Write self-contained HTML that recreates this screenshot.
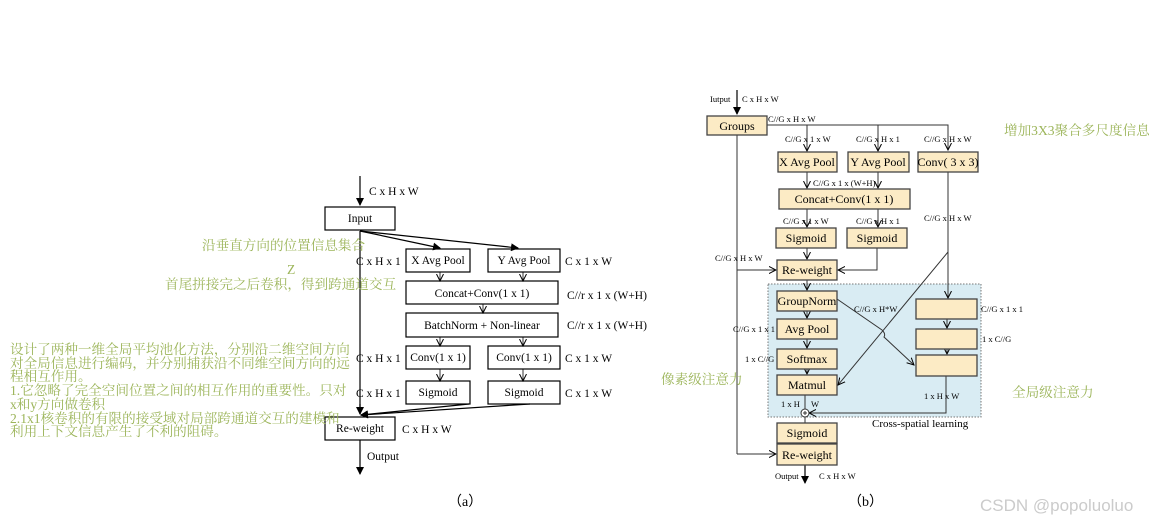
<!DOCTYPE html>
<html><head><meta charset="utf-8"><style>
html,body{margin:0;padding:0;background:#fff;}
body{width:1176px;height:525px;position:relative;overflow:hidden;}
svg{position:absolute;left:0;top:0;}
.g{position:absolute;color:#9cb55a;font-family:"Liberation Serif","Noto Serif CJK SC",serif;font-size:13.6px;line-height:13.7px;white-space:nowrap;}
</style></head><body>
<svg width="1176" height="525" viewBox="0 0 1176 525" font-family="Liberation Serif, serif">
<defs>
<marker id="a" markerWidth="8" markerHeight="8" refX="7" refY="4" orient="auto" markerUnits="userSpaceOnUse"><path d="M0,0 L8,4 L0,8 Z" fill="#000"/></marker>
<marker id="o" markerWidth="8" markerHeight="8" refX="7" refY="4" orient="auto" markerUnits="userSpaceOnUse"><path d="M0,0.5 L7,4 L0,7.5" fill="none" stroke="#000" stroke-width="1"/></marker>
</defs>
<g stroke="#000" stroke-width="1.2" fill="none">
<!-- (a) -->
<line x1="360" y1="176" x2="360" y2="205" marker-end="url(#a)"/>
<rect x="325" y="207" width="70" height="23"/>
<line x1="360" y1="231" x2="440" y2="248" marker-end="url(#a)"/>
<line x1="360" y1="231" x2="518" y2="248" marker-end="url(#a)"/>
<line x1="360" y1="231" x2="360" y2="414" marker-end="url(#a)"/>
<rect x="406" y="249" width="64" height="23"/>
<rect x="488" y="249" width="72" height="23"/>
<rect x="406" y="281" width="152" height="23"/>
<rect x="406" y="313" width="152" height="24"/>
<rect x="406" y="346" width="64" height="23"/>
<rect x="488" y="346" width="72" height="23"/>
<rect x="406" y="381" width="64" height="23"/>
<rect x="488" y="381" width="72" height="23"/>
<line x1="360" y1="404" x2="360" y2="414"/>
<line x1="469" y1="404" x2="361" y2="415" marker-end="url(#a)"/>
<line x1="530" y1="404" x2="361" y2="415" marker-end="url(#a)"/>
<rect x="325" y="417" width="70" height="23"/>
<line x1="360" y1="440" x2="360" y2="474" marker-end="url(#a)"/>
</g>
<g stroke="#000" stroke-width="0.8" fill="none">
<line x1="440" y1="272" x2="440" y2="281" marker-end="url(#o)"/>
<line x1="523" y1="272" x2="523" y2="281" marker-end="url(#o)"/>
<line x1="483" y1="304" x2="483" y2="313" marker-end="url(#o)"/>
<line x1="440" y1="337" x2="440" y2="346" marker-end="url(#o)"/>
<line x1="523" y1="337" x2="523" y2="346" marker-end="url(#o)"/>
<line x1="440" y1="369" x2="440" y2="381" marker-end="url(#o)"/>
<line x1="523" y1="369" x2="523" y2="381" marker-end="url(#o)"/>
</g>
<g font-size="11.5" fill="#000" text-anchor="middle">
<text x="360" y="222">Input</text>
<text x="438" y="264">X Avg Pool</text>
<text x="524" y="264">Y Avg Pool</text>
<text x="482" y="297">Concat+Conv(1 x 1)</text>
<text x="482" y="329">BatchNorm + Non-linear</text>
<text x="438" y="361">Conv(1 x 1)</text>
<text x="524" y="361">Conv(1 x 1)</text>
<text x="438" y="396">Sigmoid</text>
<text x="524" y="396">Sigmoid</text>
<text x="360" y="432">Re-weight</text>
</g>
<g font-size="11.5" fill="#000">
<text x="369" y="195">C x H x W</text>
<text x="356" y="265">C x H x 1</text>
<text x="565" y="265">C x 1 x W</text>
<text x="567" y="299">C//r x 1 x (W+H)</text>
<text x="567" y="329">C//r x 1 x (W+H)</text>
<text x="356" y="362">C x H x 1</text>
<text x="565" y="362">C x 1 x W</text>
<text x="356" y="397">C x H x 1</text>
<text x="565" y="397">C x 1 x W</text>
<text x="402" y="433">C x H x W</text>
<text x="367" y="460">Output</text>
<text x="448" y="506" font-size="14">（a）</text>
<text x="848" y="506" font-size="14">（b）</text>
</g>
<!-- (b) -->
<rect x="768" y="284" width="213" height="133" fill="#d9ecf3" stroke="#777" stroke-width="1" stroke-dasharray="1.5,1.5"/>
<g stroke="#000" stroke-width="1.2" fill="none">
<line x1="737" y1="90" x2="737" y2="114" marker-end="url(#a)"/>
</g>
<g stroke="#333" stroke-width="1" fill="none">
<polyline points="767,125 948,125 948,150" marker-end="url(#o)"/>
<line x1="807" y1="125" x2="807" y2="151" marker-end="url(#o)"/>
<line x1="878" y1="125" x2="878" y2="151" marker-end="url(#o)"/>
<line x1="807" y1="172" x2="807" y2="188" marker-end="url(#o)"/>
<line x1="878" y1="172" x2="878" y2="188" marker-end="url(#o)"/>
<line x1="807" y1="209" x2="807" y2="227" marker-end="url(#o)"/>
<line x1="878" y1="209" x2="878" y2="227" marker-end="url(#o)"/>
<line x1="807" y1="248" x2="807" y2="259" marker-end="url(#o)"/>
<polyline points="877,248 877,270 838,270" marker-end="url(#o)"/>
<line x1="737" y1="135" x2="737" y2="454"/>
<line x1="737" y1="270" x2="776" y2="270" marker-end="url(#o)"/>
<line x1="737" y1="454" x2="776" y2="454" marker-end="url(#o)"/>
<line x1="948" y1="172" x2="948" y2="298" marker-end="url(#o)"/>
<line x1="948" y1="252" x2="838" y2="385" marker-end="url(#o)"/>
<line x1="807" y1="280" x2="807" y2="290" marker-end="url(#o)"/>
<line x1="807" y1="311" x2="807" y2="318" marker-end="url(#o)"/>
<line x1="807" y1="339" x2="807" y2="348" marker-end="url(#o)"/>
<line x1="807" y1="369" x2="807" y2="374" marker-end="url(#o)"/>
<path d="M837,299 L882,330 Q886,334 884,337 L914,365" marker-end="url(#o)"/>
<line x1="947" y1="319" x2="947" y2="328" marker-end="url(#o)"/>
<line x1="947" y1="349" x2="947" y2="354" marker-end="url(#o)"/>
<polyline points="946,376 946,413 809,413" marker-end="url(#o)"/>
<line x1="805" y1="395" x2="805" y2="409"/>
<line x1="805" y1="417" x2="805" y2="423"/>
<circle cx="805" cy="413" r="4" fill="#fff"/>
<line x1="803" y1="413" x2="807" y2="413"/><line x1="805" y1="411" x2="805" y2="415"/>
</g>
<line x1="805" y1="465" x2="805" y2="483" stroke="#000" stroke-width="1.2" marker-end="url(#a)"/>
<g fill="#fcebc5" stroke="#444" stroke-width="1.3">
<rect x="707" y="116" width="60" height="19"/>
<rect x="778" y="152" width="59" height="20"/>
<rect x="848" y="152" width="61" height="20"/>
<rect x="918" y="152" width="60" height="20"/>
<rect x="779" y="189" width="131" height="20"/>
<rect x="776" y="228" width="60" height="20"/>
<rect x="847" y="228" width="60" height="20"/>
<rect x="777" y="260" width="60" height="20"/>
<rect x="777" y="291" width="60" height="20"/>
<rect x="777" y="319" width="60" height="20"/>
<rect x="777" y="349" width="60" height="20"/>
<rect x="777" y="375" width="60" height="20"/>
<rect x="916" y="299" width="61" height="20"/>
<rect x="916" y="329" width="61" height="20"/>
<rect x="916" y="355" width="61" height="21"/>
<rect x="777" y="423" width="60" height="20"/>
<rect x="777" y="444" width="60" height="21"/>
</g>
<g font-size="12" fill="#000" text-anchor="middle">
<text x="737" y="130">Groups</text>
<text x="807" y="166">X Avg Pool</text>
<text x="878" y="166">Y Avg Pool</text>
<text x="948" y="166">Conv( 3 x 3)</text>
<text x="844" y="203">Concat+Conv(1 x 1)</text>
<text x="806" y="242">Sigmoid</text>
<text x="877" y="242">Sigmoid</text>
<text x="807" y="274">Re-weight</text>
<text x="807" y="305">GroupNorm</text>
<text x="807" y="333">Avg Pool</text>
<text x="807" y="363">Softmax</text>
<text x="807" y="389">Matmul</text>
<text x="807" y="437">Sigmoid</text>
<text x="807" y="459">Re-weight</text>
</g>
<g font-size="8.5" fill="#000">
<text x="710" y="102">Iutput</text>
<text x="742" y="102">C x H x W</text>
<text x="768" y="122">C//G x H x W</text>
<text x="785" y="142">C//G x 1 x W</text>
<text x="856" y="142">C//G x H x 1</text>
<text x="924" y="142">C//G x H x W</text>
<text x="813" y="186">C//G x 1 x (W+H)</text>
<text x="783" y="224">C//G x 1 x W</text>
<text x="856" y="224">C//G x H x 1</text>
<text x="924" y="221">C//G x H x W</text>
<text x="715" y="261">C//G x H x W</text>
<text x="854" y="312">C//G x H*W</text>
<text x="981" y="312">C//G x 1 x 1</text>
<text x="982" y="342">1 x C//G</text>
<text x="733" y="332">C//G x 1 x 1</text>
<text x="745" y="362">1 x C//G</text>
<text x="924" y="399">1 x H x W</text>
<text x="781" y="407">1 x H</text>
<text x="811" y="407">W</text>
<text x="775" y="479">Output</text>
<text x="819" y="479">C x H x W</text>
<text x="872" y="427" font-size="11">Cross-spatial learning</text>
</g>
<text x="980" y="511" font-family="Liberation Sans, sans-serif" font-size="17" fill="#cbcbcb">CSDN @popoluoluo</text>
</svg>
<div class="g" style="left:202px;top:239px;">沿垂直方向的位置信息集合</div>
<div class="g" style="left:287px;top:263px;">Z</div>
<div class="g" style="left:165px;top:278px;">首尾拼接完之后卷积，得到跨通道交互</div>
<div class="g" style="left:10px;top:343px;">设计了两种一维全局平均池化方法，分别沿二维空间方向<br>对全局信息进行编码，并分别捕获沿不同维空间方向的远<br>程相互作用。<br>1.它忽略了完全空间位置之间的相互作用的重要性。只对<br>x和y方向做卷积<br>2.1x1核卷积的有限的接受域对局部跨通道交互的建模和<br>利用上下文信息产生了不利的阻碍。</div>
<div class="g" style="left:1004px;top:124px;">增加3X3聚合多尺度信息</div>
<div class="g" style="left:661px;top:373px;">像素级注意力</div>
<div class="g" style="left:1012px;top:386px;">全局级注意力</div>
</body></html>
